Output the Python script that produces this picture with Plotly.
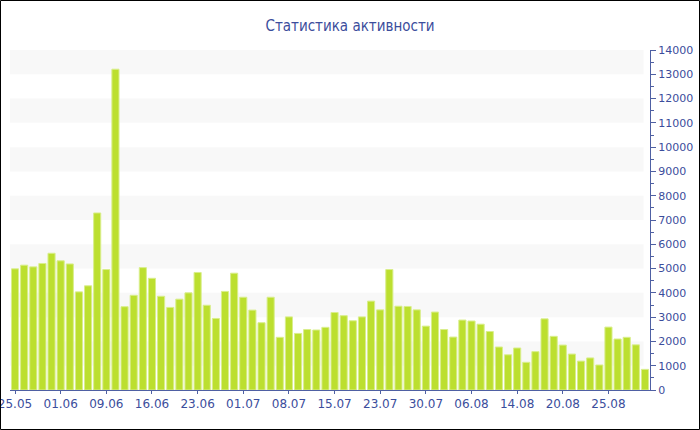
import plotly.graph_objects as go

values = [4990, 5140, 5070, 5210, 5630, 5320, 5190, 4040, 4290, 7290,
          4960, 13210, 3430, 3900, 5040, 4600, 3860, 3400, 3740, 4000,
          4840, 3490, 2950, 4060, 4810, 3820, 3290, 2770, 3820, 2170,
          3010, 2330, 2490, 2470, 2580, 3190, 3060, 2850, 3010, 3660,
          3300, 4960, 3450, 3440, 3300, 2630, 3210, 2490, 2180, 2880,
          2840, 2710, 2410, 1770, 1450, 1730, 1140, 1580, 2930, 2210,
          1850, 1480, 1190, 1320, 1030, 2590, 2100, 2170, 1860, 850]
tick_positions = [0, 5, 10, 15, 20, 25, 30, 35, 40, 45, 50, 55, 60, 65]
tick_labels = ["25.05", "01.06", "09.06", "16.06", "23.06", "01.07", "08.07",
               "15.07", "23.07", "30.07", "06.08", "14.08", "20.08", "25.08"]
title_text = "Статистика активности"

text_color = "#3b4d9c"
axis_color = "#4f60a3"

fig = go.Figure()
fig.add_trace(go.Bar(
    x=list(range(len(values))), y=values,
    marker=dict(color="#bcdf2f", line=dict(color="#d9ee8c", width=1)),
    width=0.78, showlegend=False, hoverinfo="y",
))

shapes = []
for lo in range(1000, 14000, 2000):
    shapes.append(dict(type="rect", xref="paper", yref="y", x0=0, x1=0.99, y0=lo, y1=lo + 1000,
                       fillcolor="#f8f8f8", line=dict(width=0), layer="below"))
L, R, T, B = 10, 50, 50, 40
pw, ph = 700 - L - R, 430 - T - B
shapes.append(dict(type="rect", xref="paper", yref="paper",
                   x0=-(L - 0.5) / pw, x1=1 + (R - 0.5) / pw,
                   y0=-(B - 0.5) / ph, y1=1 + (T - 0.5) / ph,
                   line=dict(color="black", width=1), fillcolor="rgba(0,0,0,0)"))

fig.update_layout(
    width=700, height=430,
    margin=dict(l=L, r=R, t=T, b=B, autoexpand=False),
    paper_bgcolor="white", plot_bgcolor="white",
    title=dict(text=title_text, x=0.5, xanchor="center", y=0.94, yanchor="middle",
               font=dict(family="DejaVu Sans Condensed, DejaVu Sans", size=15, color=text_color)),
    shapes=shapes,
    bargap=0.2,
    xaxis=dict(range=[-0.55, len(values) - 0.45], tickvals=tick_positions, ticktext=tick_labels,
               automargin=False, ticklabeloverflow="allow",
               showgrid=False, zeroline=False, showline=True, linecolor=axis_color, linewidth=1,
               ticks="outside", ticklen=3, tickcolor=axis_color,
               tickfont=dict(family="DejaVu Sans", size=12, color=text_color)),
    yaxis=dict(side="right", range=[0, 14000], dtick=1000, tickformat="d", automargin=False,
               ticklabeloverflow="allow",
               showgrid=False, zeroline=False,
               showline=True, linecolor=axis_color, linewidth=1,
               ticks="outside", ticklen=5, tickcolor=axis_color,
               minor=dict(dtick=500, ticks="outside", ticklen=3, tickcolor=axis_color, showgrid=False),
               tickfont=dict(family="DejaVu Sans", size=11, color=text_color)),
    font=dict(family="DejaVu Sans", color=text_color),
)

fig.write_html("out.html", config={"displayModeBar": False},
               post_script="document.body.style.margin='0';document.body.style.overflow='hidden';")
